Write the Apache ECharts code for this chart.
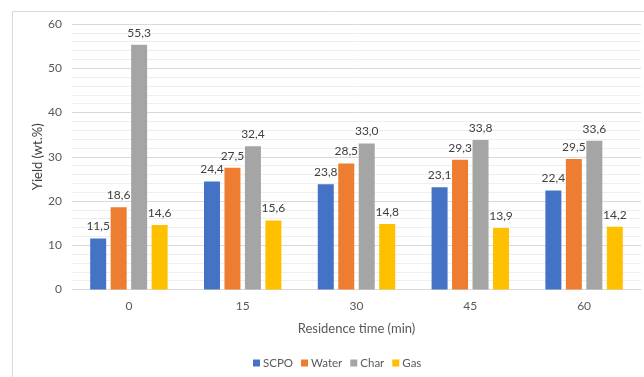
<!DOCTYPE html>
<html>
<head>
<meta charset="utf-8">
<script src="https://cdn.jsdelivr.net/npm/echarts@6/dist/echarts.min.js"></script>
<style>
  html, body { margin: 0; padding: 0; background: #fff; }
  #chart { width: 644px; height: 377px; }
</style>
</head>
<body>
<div id="chart"></div>
<script>
// Residence time categories (min)
const categories = ['0', '15', '30', '45', '60'];

// Product yields (wt.%)
const scpo  = [11.5, 24.4, 23.8, 23.1, 22.4];
const water = [18.6, 27.5, 28.5, 29.3, 29.5];
const charY = [55.3, 32.4, 33.0, 33.8, 33.6];
const gas   = [14.6, 15.6, 14.8, 13.9, 14.2];

const seriesNames = ['SCPO', 'Water', 'Char', 'Gas'];
const seriesData = [scpo, water, charY, gas];
const colors = ['#4472C4', '#ED7D31', '#A5A5A5', '#FFC000'];

const FONT = 'Lato, "Open Sans", sans-serif';
const chart = echarts.init(document.getElementById('chart'));

chart.setOption({
  animation: false,
  color: colors,
  textStyle: { fontFamily: FONT },
  graphic: [{
    type: 'rect',
    left: 10, top: 9,
    shape: { width: 700, height: 400 },
    style: { fill: 'none', stroke: '#d9d9d9', lineWidth: 1 },
    silent: true,
    z: -1
  }],
  grid: { left: 72, right: 3, top: 24, bottom: 87.5, containLabel: false },
  legend: {
    bottom: 3,
    left: 248,
    itemWidth: 7, itemHeight: 7, itemGap: 8,
    icon: 'rect',
    textStyle: { color: '#595959', fontSize: 11.5, fontFamily: FONT, padding: [0, 0, 0, -2] },
    data: seriesNames
  },
  xAxis: {
    type: 'category',
    data: categories,
    name: 'Residence time (min)',
    nameLocation: 'middle',
    nameGap: 33,
    nameMoveOverlap: false,
    nameTextStyle: { color: '#595959', fontSize: 13, fontFamily: FONT },
    axisLine: { lineStyle: { color: '#d9d9d9' } },
    axisTick: { show: false },
    axisLabel: { color: '#595959', fontSize: 12, margin: 11, fontFamily: FONT }
  },
  yAxis: {
    type: 'value',
    min: 0, max: 60, interval: 10,
    name: 'Yield (wt.%)',
    nameLocation: 'middle',
    nameGap: 28,
    nameMoveOverlap: false,
    nameTextStyle: { color: '#404040', fontSize: 13, fontFamily: FONT },
    axisLine: { show: false },
    axisTick: { show: false },
    axisLabel: { color: '#595959', fontSize: 12, margin: 10, fontFamily: FONT },
    splitLine: { lineStyle: { color: '#d9d9d9', width: 1 } },
    minorTick: { show: false, splitNumber: 5 },
    minorSplitLine: { show: true, lineStyle: { color: '#eeeeee', width: 1 } }
  },
  series: seriesNames.map((name, i) => ({
    name: name,
    type: 'bar',
    data: seriesData[i],
    barWidth: 16,
    barGap: '28%',
    label: {
      show: true,
      position: 'top',
      distance: 6,
      color: '#404040',
      fontSize: 12,
      fontFamily: FONT,
      formatter: p => p.value.toFixed(1).replace('.', ',')
    }
  }))
});
</script>
</body>
</html>
